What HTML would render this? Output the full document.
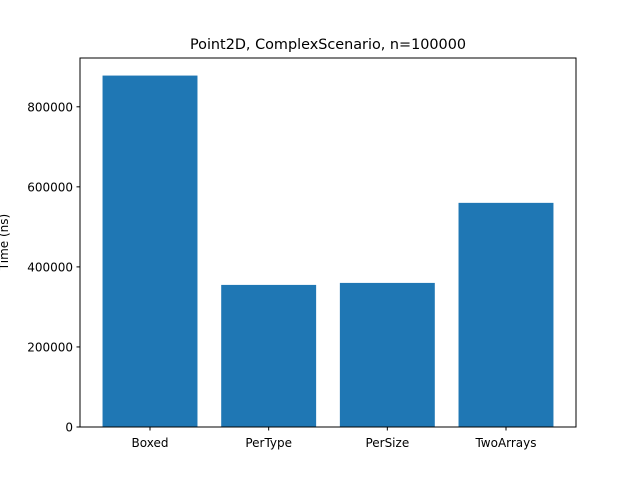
<!DOCTYPE html>
<html><head><meta charset="utf-8"><style>
html,body{margin:0;padding:0;background:#fff;}
svg{display:block;font-family:"DejaVu Sans","Liberation Sans",sans-serif;}
</style></head><body>
<svg id="chart" width="640" height="480" viewBox="0 0 640 480">
<rect width="640" height="480" fill="#fff"/>
<text x="328" y="49" font-size="14.4" text-anchor="middle">Point2D, ComplexScenario, n=100000</text>
<text transform="translate(8,242) rotate(-90)" font-size="12" text-anchor="middle">Time (ns)</text>
<g id="bars"></g>
<g id="axes"></g>
</svg>
<script>
const categories = ["Boxed", "PerType", "PerSize", "TwoArrays"];
const values = [878000, 355000, 360000, 560000];
const yTicks = [0, 200000, 400000, 600000, 800000];

const L = 80, R = 576, T = 58, B = 427;
const ymax = Math.max(...values) * 1.05;
const xmin = -0.59, xmax = categories.length - 1 + 0.59;
const xs = v => L + (v - xmin) / (xmax - xmin) * (R - L);
const ys = v => B - v / ymax * (B - T);
const NS = "http://www.w3.org/2000/svg";
const bars = document.getElementById("bars");
const axes = document.getElementById("axes");
function mk(tag, attrs, parent) {
  const e = document.createElementNS(NS, tag);
  for (const k in attrs) e.setAttribute(k, attrs[k]);
  parent.appendChild(e);
  return e;
}
values.forEach((v, i) => {
  const r = mk("rect", {x: xs(i - 0.4), y: ys(v), width: xs(i + 0.4) - xs(i - 0.4), height: B - ys(v), fill: "#1f77b4"}, bars);
  
  
});
const frame = mk("rect", {x: L, y: T, width: R - L, height: B - T, fill: "none", stroke: "#000", "stroke-width": 1}, axes);


categories.forEach((c, i) => {
  const x = xs(i);
  const tk = mk("line", {x1: x, x2: x, y1: B, y2: B + 3.5, stroke: "#000"}, axes);
  
  
  const t = mk("text", {x: x, y: B + 20, "font-size": 12, "text-anchor": "middle"}, axes);
  t.textContent = c;
  
  
});
yTicks.forEach(v => {
  const y = ys(v);
  const tk = mk("line", {x1: L - 3.5, x2: L, y1: y, y2: y, stroke: "#000"}, axes);
  
  
  const t = mk("text", {x: L - 7, y: y + 4.5, "font-size": 12, "text-anchor": "end"}, axes);
  t.textContent = String(v);
  
  
});
</script>
</body></html>
